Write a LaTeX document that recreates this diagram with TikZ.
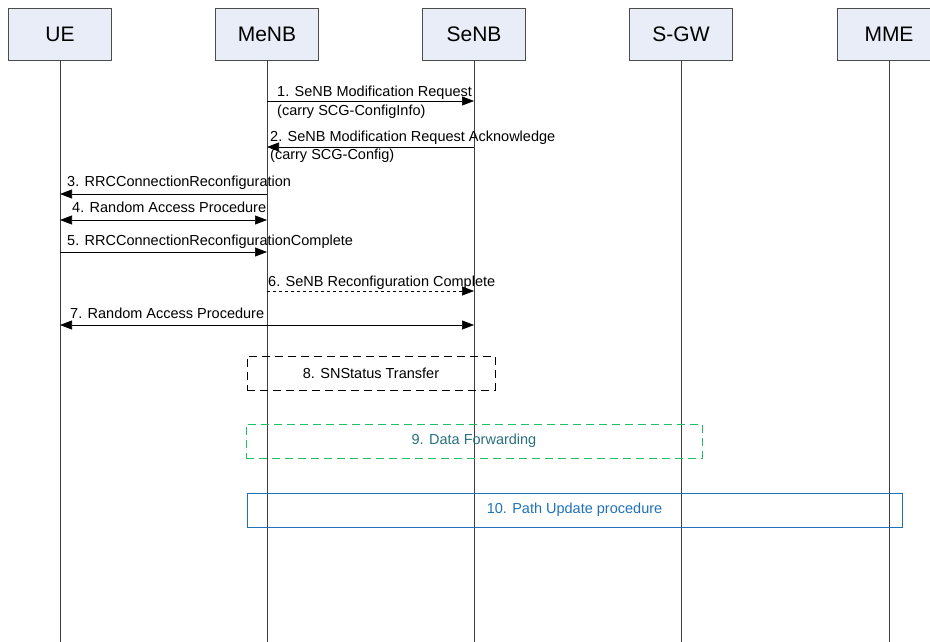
\documentclass[tikz,border=0pt]{standalone}
\usepackage{fontspec}
\setmainfont{Liberation Sans}
\usepackage{tikz}
\usetikzlibrary{arrows.meta, positioning}

\definecolor{entfill}{HTML}{E8EDF7}
\definecolor{fwdgreen}{HTML}{1FC060}
\definecolor{fwdtext}{HTML}{2A6F80}
\definecolor{pathblue}{HTML}{1F72B8}

\begin{document}
\begin{tikzpicture}[
      x=1pt, y=-1pt,
      ent/.style={draw=black!70, fill=entfill, minimum width=103pt, minimum height=52pt,
                  inner sep=0pt, font=\fontsize{21}{24}\selectfont},
      life/.style={draw=black!75, line width=0.8pt},
      msg/.style={-{Triangle[length=12pt,width=9pt]}, line width=0.7pt},
      both/.style={{Triangle[length=12pt,width=9pt]}-{Triangle[length=12pt,width=9pt]},
                   line width=0.7pt},
      lbl/.style={font=\fontsize{14.5}{16}\selectfont, inner sep=0pt, anchor=base west},
      stage/.style={minimum height=34pt, inner sep=0pt, font=\fontsize{14.5}{16}\selectfont},
    ]
    \useasboundingbox (0,0) rectangle (930,642);
    \clip (0,0) rectangle (930,642);

    % entities
    \node[ent] (ue)   at (60,34)  {UE};
    \node[ent] (menb) at (267,34) {MeNB};
    \node[ent] (senb) at (474,34) {SeNB};
    \node[ent] (sgw)  at (681,34) {S-GW};
    \node[ent] (mme)  at (889,34) {MME};

    % lifelines
    \foreach \e in {ue, menb, senb, sgw, mme}
      \draw[life] (\e.south) -- (\e.south |- 0,642);

    % messages
    \draw[msg] (menb |- 0,101) -- (senb |- 0,101);
    \node[lbl] (t1) at (277,97) {1. SeNB Modification Request};
    \node[lbl] (t1b) at (277,115) {(carry SCG-ConfigInfo)};

    \draw[msg] (senb |- 0,147) -- (menb |- 0,147);
    \node[lbl] (t2) at (270,142) {2. SeNB Modification Request Acknowledge};
    \node[lbl] (t2b) at (270,160) {(carry SCG-Config)};

    \draw[msg] (menb |- 0,194) -- (ue |- 0,194);
    \node[lbl] (t3) at (67,186) {3. RRCConnectionReconfiguration};

    \draw[both] (ue |- 0,220) -- (menb |- 0,220);
    \node[lbl] (t4) at (72,212) {4. Random Access Procedure};

    \draw[msg] (ue |- 0,252) -- (menb |- 0,252);
    \node[lbl] (t5) at (67,245) {5. RRCConnectionReconfigurationComplete};

    \draw[msg, dashed] (menb |- 0,291) -- (senb |- 0,291);
    \node[lbl] (t6) at (268,286) {6. SeNB Reconfiguration Complete};

    \draw[both] (ue |- 0,325) -- (senb |- 0,325);
    \node[lbl] (t7) at (70,318) {7. Random Access Procedure};

    % procedure boxes
    \node[stage, draw, dashed, dash pattern=on 8pt off 5pt, line width=0.9pt,
          minimum width=248pt] (snst) at (371,373) {8. SNStatus Transfer};
    \node[stage, draw=fwdgreen, dash pattern=on 8pt off 5pt, line width=0.9pt,
          text=fwdtext, minimum width=456pt] (fwd) at (474,441) {9. Data Forwarding};
    \node[stage, draw=pathblue, line width=0.9pt, text=pathblue,
          minimum width=655pt] (path) at (574.5,510) {10. Path Update procedure};
  \end{tikzpicture}
\end{document}
